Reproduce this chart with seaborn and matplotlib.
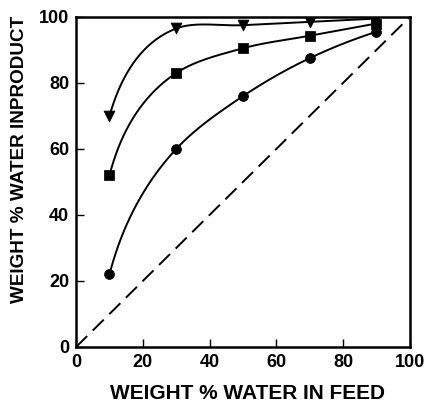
import numpy as np
import pandas as pd
import matplotlib
matplotlib.use("Agg")
import matplotlib.pyplot as plt
import seaborn as sns

# Feed water content (wt %) and the resulting product water content for three runs
feed_water = [10, 30, 50, 70, 90]
product_triangle = [70, 96.5, 97.5, 98.5, 99.5]
product_square = [52, 83, 90.5, 94.3, 98]
product_circle = [22, 60, 76, 87.5, 95.5]
x_ticks = [0, 20, 40, 60, 80, 100]
y_ticks = [0, 20, 40, 60, 80, 100]


def smooth_curve(x, y, n=40):
    """Parametric cubic Hermite curve through the points (chord-length
    parameter, Bessel tangents, parabolic end conditions)."""
    P = np.column_stack([np.asarray(x, float), np.asarray(y, float)])
    seg = np.diff(P, axis=0)
    h = np.linalg.norm(seg, axis=1)
    d = seg / h[:, None]
    m = np.zeros_like(P)
    for i in range(1, len(P) - 1):
        m[i] = (d[i - 1] * h[i] + d[i] * h[i - 1]) / (h[i - 1] + h[i])
    m[0] = 2 * d[0] - m[1]
    m[-1] = 2 * d[-1] - m[-2]
    out = []
    for i in range(len(P) - 1):
        s = np.linspace(0, 1, n)[:, None]
        h00 = 2 * s**3 - 3 * s**2 + 1
        h10 = s**3 - 2 * s**2 + s
        h01 = -2 * s**3 + 3 * s**2
        h11 = s**3 - s**2
        c = h00 * P[i] + h10 * h[i] * m[i] + h01 * P[i + 1] + h11 * h[i] * m[i + 1]
        out.append(c if i == 0 else c[1:])
    c = np.vstack(out)
    return c[:, 0], c[:, 1]


sns.set_style("ticks")
plt.rcParams["font.family"] = ["Liberation Sans", "DejaVu Sans"]
plt.rcParams["text.color"] = "black"
plt.rcParams["xtick.color"] = "black"
plt.rcParams["ytick.color"] = "black"
plt.rcParams["axes.labelcolor"] = "black"

fig = plt.figure(figsize=(4.3, 4.03), dpi=100)
ax = fig.add_axes([0.177, 0.139, 0.776, 0.819])

series = [
    (product_triangle, "v", 60),
    (product_square, "s", 45),
    (product_circle, "o", 50),
]
for values, marker, size in series:
    xs, ys = smooth_curve(feed_water, values)
    sns.lineplot(x=xs, y=ys, ax=ax, color="black", lw=1.4, sort=False,
                 estimator=None)
    sns.scatterplot(x=feed_water, y=values, ax=ax, color="black",
                    marker=marker, s=size, edgecolor="black", zorder=5)

# reference diagonal: product composition equal to feed composition
sns.lineplot(x=[0, 100], y=[0, 100], ax=ax, color="black", lw=1.4,
             dashes=False, linestyle=(0, (8, 4)))

ax.set_xlim(0, 100)
ax.set_ylim(0, 100)
ax.set_xticks(x_ticks)
ax.set_yticks(y_ticks)
ax.tick_params(direction="in", length=6, width=1, labelsize=13, pad=5)
for lab in ax.get_xticklabels() + ax.get_yticklabels():
    lab.set_fontweight("bold")
for s in ax.spines.values():
    s.set_linewidth(1.8)
    s.set_color("black")

ax.set_xlabel("WEIGHT % WATER IN FEED", fontsize=15, fontweight="bold")
ax.set_ylabel("WEIGHT % WATER INPRODUCT", fontsize=13.6, fontweight="bold")
ax.xaxis.set_label_coords(0.515, -0.111)
ax.yaxis.set_label_coords(-0.144, 0.567)

fig.savefig("out.png", dpi=100)
